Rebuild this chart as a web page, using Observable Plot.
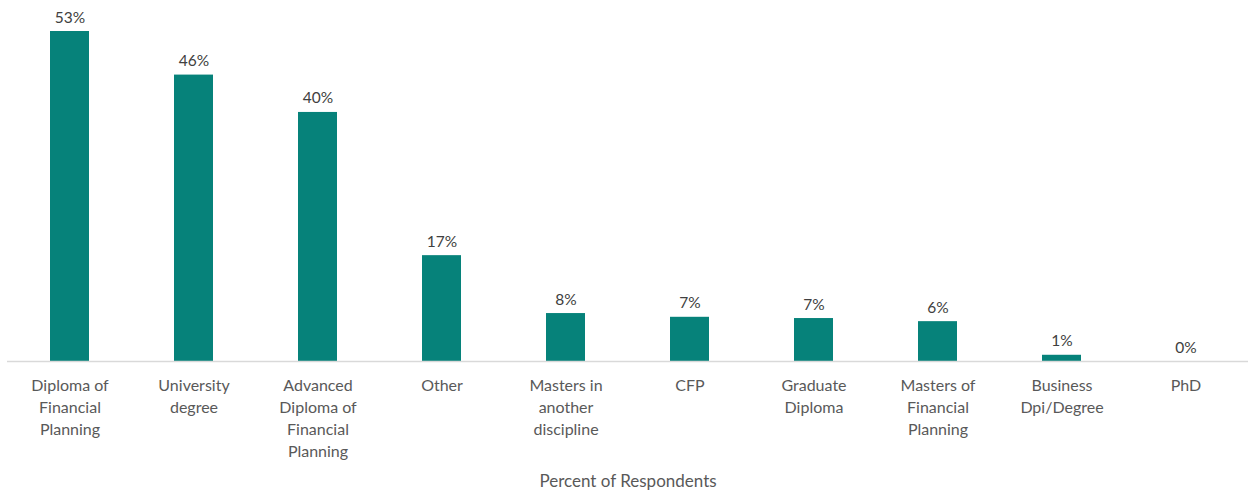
<!DOCTYPE html>
<html>
<head>
<meta charset="utf-8">
<script src="https://cdn.jsdelivr.net/npm/d3@7"></script>
<script src="https://cdn.jsdelivr.net/npm/@observablehq/plot@0.6"></script>
<style>
  html, body { margin: 0; padding: 0; background: #fff; }
  #chart svg { display: block; }
</style>
</head>
<body>
<div id="chart"></div>
<script>
const categories = [
  "Diploma of Financial Planning",
  "University degree",
  "Advanced Diploma of Financial Planning",
  "Other",
  "Masters in another discipline",
  "CFP",
  "Graduate Diploma",
  "Masters of Financial Planning",
  "Business Dpi/Degree",
  "PhD"
];
const tickLabels = [
  "Diploma of\nFinancial\nPlanning",
  "University\ndegree",
  "Advanced\nDiploma of\nFinancial\nPlanning",
  "Other",
  "Masters in\nanother\ndiscipline",
  "CFP",
  "Graduate\nDiploma",
  "Masters of\nFinancial\nPlanning",
  "Business\nDpi/Degree",
  "PhD"
];
const values = [53, 46, 40, 17, 7.7, 7.1, 6.9, 6.4, 1, 0];
const axisTitle = "Percent of Respondents";

const data = categories.map((c, i) => ({category: c, label: tickLabels[i], value: values[i]}));

const chart = Plot.plot({
  width: 1253,
  height: 494,
  marginTop: 31,
  marginBottom: 133,
  marginLeft: 7,
  marginRight: 5,
  style: {fontFamily: "Lato, 'Open Sans', sans-serif", background: "#fff"},
  x: {domain: categories, paddingInner: 0.685, paddingOuter: 0.345, axis: null},
  y: {domain: [0, 53], axis: null},
  marks: [
    Plot.barY(data, {x: "category", y: "value", fill: "#06827a"}),
    Plot.ruleY([0], {stroke: "#d9d9d9", strokeWidth: 1.5}),
    Plot.text(data, {
      x: "category", y: "value",
      text: d => Math.round(d.value) + "%",
      lineAnchor: "bottom", dy: -9,
      fontSize: 15.5, fill: "#404040"
    }),
    Plot.text(data, {
      x: "category", y: 0,
      text: "label",
      lineAnchor: "top", dy: 14,
      lineHeight: 1.375,
      fontSize: 16, fill: "#595959"
    }),
    Plot.text([axisTitle], {
      frameAnchor: "bottom", dy: 120,
      text: d => d,
      lineAnchor: "middle",
      fontSize: 17, fill: "#595959"
    })
  ]
});
document.getElementById("chart").appendChild(chart);
</script>
</body>
</html>
